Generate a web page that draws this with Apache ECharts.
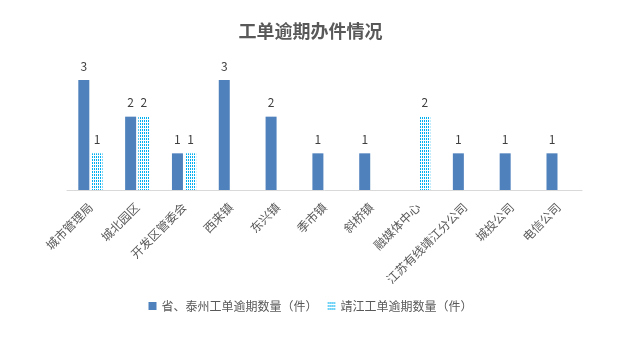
<!DOCTYPE html>
<html>
<head>
<meta charset="utf-8">
<script src="https://cdn.jsdelivr.net/npm/echarts@6/dist/echarts.min.js"></script>
<style>
  html, body { margin: 0; padding: 0; background: #fff; }
  #chart { width: 621px; height: 347px; }
</style>
</head>
<body>
<div id="chart"></div>
<script>
// Units reporting overdue work orders
const categories = ['城市管理局', '城北园区', '开发区管委会', '西来镇', '东兴镇', '季市镇', '斜桥镇', '融媒体中心', '江苏有线靖江分公司', '城投公司', '电信公司'];
// Overdue orders from the provincial / Taizhou channel
const provinceCounts = [3, 2, 1, 3, 2, 1, 1, null, 1, 1, 1];
// Overdue orders from the Jingjiang channel
const jingjiangCounts = [1, 2, 1, null, null, null, null, 2, null, null, null];

const seriesNames = ['省、泰州工单逾期数量（件）', '靖江工单逾期数量（件）'];

// Dotted fill used for the Jingjiang bars
function dotPattern() {
  const c = document.createElement('canvas');
  c.width = 2; c.height = 3;
  const ctx = c.getContext('2d');
  ctx.fillStyle = '#ffffff';
  ctx.fillRect(0, 0, 2, 3);
  ctx.fillStyle = '#00b0f0';
  ctx.fillRect(0, 0, 1, 2);
  return c;
}
const dots = { image: dotPattern(), repeat: 'repeat' };

const chart = echarts.init(document.getElementById('chart'), null, { renderer: 'canvas' });
const labelStyle = { show: true, position: 'top', distance: 8, color: '#404040', fontSize: 12, fontFamily: 'Noto Sans CJK SC' };

chart.setOption({
  animation: false,
  backgroundColor: '#ffffff',
  title: {
    text: '工单逾期办件情况',
    left: 'center',
    top: 17,
    textStyle: { color: '#595959', fontSize: 18, fontWeight: 'bold', fontFamily: 'Noto Sans CJK SC' }
  },
  legend: {
    bottom: 30,
    left: 'center',
    itemWidth: 8,
    itemHeight: 8,
    itemGap: 10,
    icon: 'rect',
    textStyle: { color: '#595959', fontSize: 12, fontFamily: 'Noto Sans CJK SC' },
    data: seriesNames
  },
  grid: { left: 67, right: 39, top: 80, height: 110, containLabel: false },
  xAxis: {
    type: 'category',
    data: categories,
    axisLine: { lineStyle: { color: '#d9d9d9', width: 1 } },
    axisTick: { show: false },
    axisLabel: {
      interval: 0,
      rotate: 45,
      margin: 15,
      color: '#595959',
      fontSize: 12,
      fontFamily: 'Noto Sans CJK SC'
    }
  },
  yAxis: {
    type: 'value',
    min: 0,
    max: 3,
    show: false,
    splitLine: { show: false }
  },
  series: [
    {
      name: seriesNames[0],
      type: 'bar',
      data: provinceCounts,
      barWidth: 11,
      barGap: '20%',
      itemStyle: { color: '#4f81bd' },
      label: labelStyle
    },
    {
      name: seriesNames[1],
      type: 'bar',
      data: jingjiangCounts,
      barWidth: 11,
      itemStyle: { color: dots },
      label: labelStyle
    }
  ]
});
</script>
</body>
</html>
